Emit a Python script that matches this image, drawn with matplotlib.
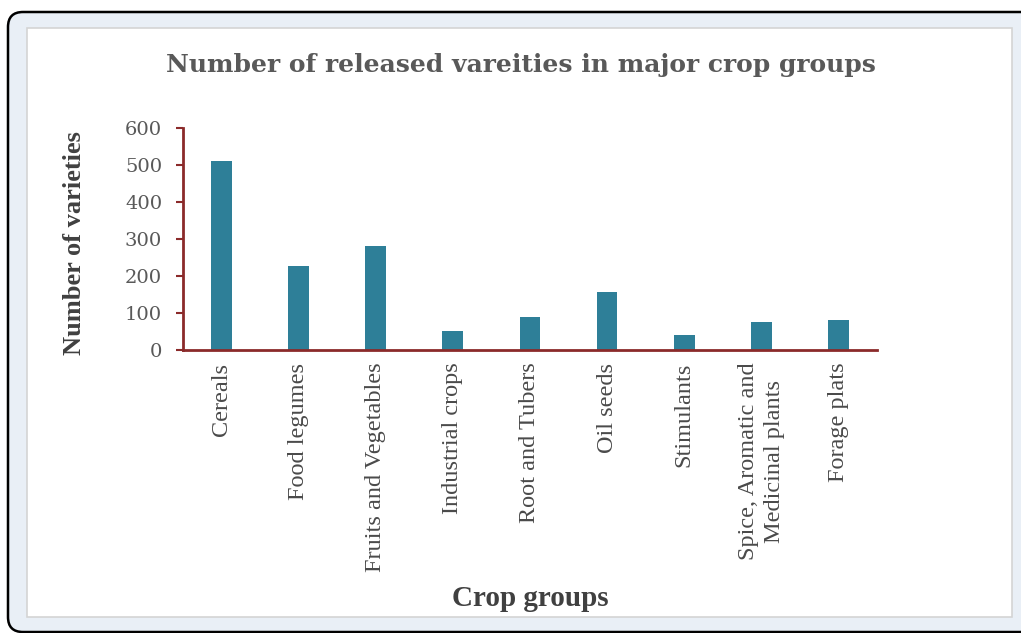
import matplotlib.pyplot as plt
from matplotlib.patches import FancyBboxPatch, Rectangle

# chart data
categories = [
    "Cereals",
    "Food legumes",
    "Fruits and Vegetables",
    "Industrial crops",
    "Root and Tubers",
    "Oil seeds",
    "Stimulants",
    "Spice, Aromatic and\nMedicinal plants",
    "Forage plats",
]
varieties = [510, 227, 280, 52, 88, 158, 41, 76, 80]
y_ticks = [0, 100, 200, 300, 400, 500, 600]

bar_color = "#2E7F98"
axis_color = "#8B2A2A"
text_color = "#595959"

fig = plt.figure(figsize=(10.21, 6.33), dpi=100)

# outer window-like frame (in inches)
outer = FancyBboxPatch(
    (0.08, 0.01), 10.3, 6.20,
    boxstyle="round,pad=0,rounding_size=0.15",
    transform=fig.dpi_scale_trans,
    facecolor="#E9EFF6", edgecolor="black", linewidth=1.8, zorder=0,
)
fig.patches.append(outer)
inner = Rectangle(
    (0.27, 0.16), 9.85, 5.89,
    transform=fig.dpi_scale_trans,
    facecolor="white", edgecolor="#D4D4D4", linewidth=1.2, zorder=0.5,
)
fig.patches.append(inner)

ax = fig.add_axes([0.1792, 0.447, 0.6797, 0.351])
ax.set_zorder(3)
ax.patch.set_alpha(0)
x = list(range(len(categories)))
ax.bar(x, varieties, width=0.27, color=bar_color, zorder=2)

ax.set_xlim(-0.5, len(categories) - 0.5)
ax.set_ylim(0, 600)
ax.set_yticks(y_ticks)
ax.set_yticklabels([str(v) for v in y_ticks], family="DejaVu Serif",
                   fontsize=14, color=text_color)
ax.set_xticks(x)
ax.set_xticklabels(categories, rotation=90, family="Liberation Serif",
                   fontsize=17.5, color="#4A4A4A", va="top", ha="center",
                   linespacing=1.3)

for side in ["top", "right"]:
    ax.spines[side].set_visible(False)
for side in ["left", "bottom"]:
    ax.spines[side].set_color(axis_color)
    ax.spines[side].set_linewidth(2)
ax.tick_params(axis="y", direction="out", length=5, width=1.5,
               color=axis_color, pad=10)
ax.tick_params(axis="x", length=0, pad=9)

fig.text(0.51, 0.897, "Number of released vareities in major crop groups",
         ha="center", va="center", family="DejaVu Serif",
         fontweight="bold", fontsize=18, color=text_color, zorder=4)
fig.text(0.073, 0.616, "Number of varieties", rotation=90,
         ha="center", va="center", family="Liberation Serif",
         fontweight="bold", fontsize=19, color="#404040", zorder=4)
fig.text(0.519, 0.055, "Crop groups", ha="center", va="center",
         family="Liberation Serif", fontweight="bold", fontsize=21,
         color="#404040", zorder=4)

fig.savefig("out.png", dpi=100)
